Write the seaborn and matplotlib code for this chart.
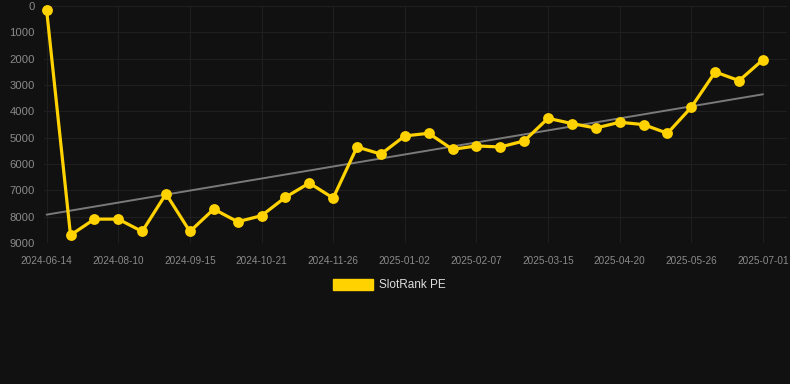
import numpy as np
import pandas as pd
import matplotlib
matplotlib.use("Agg")
import matplotlib.pyplot as plt
import matplotlib.patches as mpatches
import seaborn as sns

# ============================
# DATA
# ============================
rank_values = [150, 8700, 8090, 8090, 8560, 7130, 8560, 7710, 8190, 7960,
               7260, 6720, 7290, 5350, 5620, 4930, 4830, 5440, 5310, 5350,
               5120, 4260, 4460, 4630, 4410, 4500, 4830, 3840, 2500, 2830,
               2035]
tick_labels = ["2024-06-14", "2024-08-10", "2024-09-15", "2024-10-21",
               "2024-11-26", "2025-01-02", "2025-02-07", "2025-03-15",
               "2025-04-20", "2025-05-26", "2025-07-01"]
y_ticks = [0, 1000, 2000, 3000, 4000, 5000, 6000, 7000, 8000, 9000]
series_name = "SlotRank PE"

df = pd.DataFrame({"idx": np.arange(len(rank_values)), "rank": rank_values})

# trend line = linear fit
coef = np.polyfit(df["idx"], df["rank"], 1)
df["trend"] = np.polyval(coef, df["idx"])

# ============================
# STYLE
# ============================
bg = "#111111"
gold = "#FFD200"
sns.set_style("dark")
plt.rcParams["font.family"] = ["Liberation Sans", "DejaVu Sans"]

fig = plt.figure(figsize=(7.9, 3.84), dpi=100, facecolor=bg)
ax = fig.add_axes([0.056, 0.367, 0.94, 0.617])
ax.set_facecolor(bg)

sns.lineplot(data=df, x="idx", y="trend", ax=ax, color="#7a7a7a",
             linewidth=1.4, zorder=2)
sns.lineplot(data=df, x="idx", y="rank", ax=ax, color=gold, linewidth=2.3,
             marker="o", markersize=7.8, markeredgecolor=gold,
             markeredgewidth=0, zorder=3, clip_on=False)

ax.set_ylim(9000, 0)
ax.set_xlim(-0.1, 31.0)
ax.set_yticks(y_ticks)
ax.set_yticklabels([str(v) for v in y_ticks])
ax.set_xticks(np.arange(0, len(rank_values), 3))
ax.set_xticklabels(tick_labels)
ax.tick_params(axis="both", colors="#8a8a8a", length=0)
ax.tick_params(axis="y", pad=7, labelsize=8.1)
ax.tick_params(axis="x", pad=9, labelsize=7.2)
ax.grid(True, color="#1f1f1f", linewidth=0.8)
ax.set_xlabel("")
ax.set_ylabel("")
for s in ax.spines.values():
    s.set_visible(False)

handle = mpatches.Patch(color=gold, label=series_name)
leg = fig.legend(handles=[handle], loc="center", bbox_to_anchor=(0.493, 0.258),
                 frameon=False, fontsize=8.5, handlelength=3.4,
                 handleheight=1.05, handletextpad=0.5)
for t in leg.get_texts():
    t.set_color("#dddddd")

fig.savefig("out.png", dpi=100, facecolor=bg)
